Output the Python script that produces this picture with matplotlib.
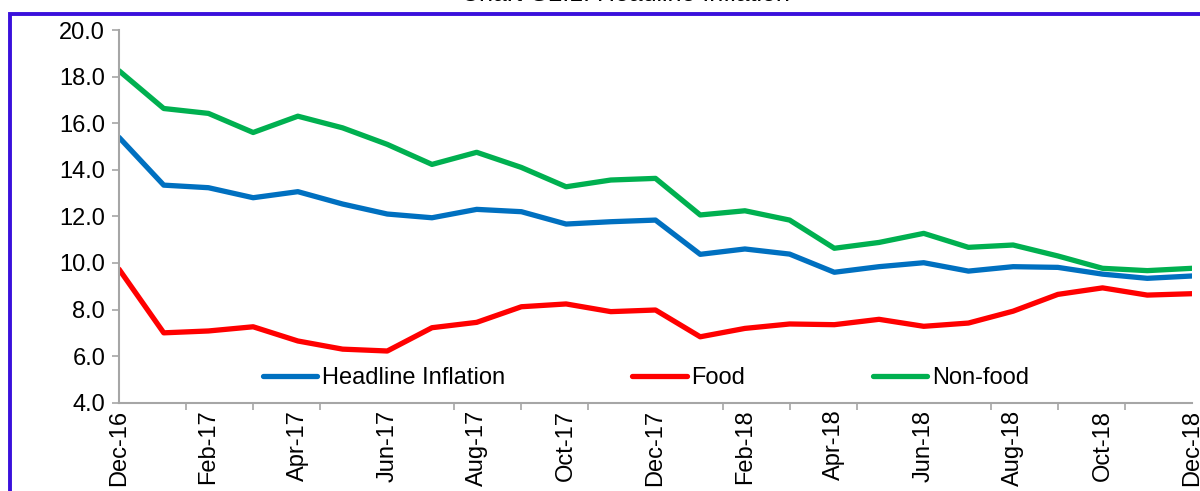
import numpy as np
import matplotlib
matplotlib.use("Agg")
import matplotlib.pyplot as plt
import matplotlib.patches as patches

plt.rcParams['font.family'] = ['Liberation Sans', 'DejaVu Sans']

months = ['Dec-16', 'Jan-17', 'Feb-17', 'Mar-17', 'Apr-17', 'May-17', 'Jun-17',
          'Jul-17', 'Aug-17', 'Sep-17', 'Oct-17', 'Nov-17', 'Dec-17',
          'Jan-18', 'Feb-18', 'Mar-18', 'Apr-18', 'May-18', 'Jun-18',
          'Jul-18', 'Aug-18', 'Sep-18', 'Oct-18', 'Nov-18', 'Dec-18']

headline = [15.39, 13.34, 13.23, 12.80, 13.06, 12.53, 12.10, 11.94, 12.30, 12.20,
            11.67, 11.77, 11.84, 10.37, 10.60, 10.38, 9.60, 9.84, 10.01,
            9.65, 9.84, 9.81, 9.52, 9.34, 9.44]
food = [9.73, 7.00, 7.08, 7.26, 6.65, 6.30, 6.22, 7.22, 7.45, 8.12,
        8.24, 7.91, 7.98, 6.83, 7.19, 7.38, 7.35, 7.58, 7.28,
        7.42, 7.93, 8.65, 8.93, 8.62, 8.68]
non_food = [18.25, 16.63, 16.42, 15.60, 16.30, 15.80, 15.09, 14.23, 14.75, 14.10,
            13.27, 13.56, 13.63, 12.06, 12.24, 11.84, 10.63, 10.88, 11.27,
            10.67, 10.77, 10.30, 9.77, 9.67, 9.77]

series_names = ['Headline Inflation', 'Food', 'Non-food']
series_colors = ['#0070C0', '#FF0000', '#00B050']
title = 'Chart G2.1: Headline Inflation'

fig = plt.figure(figsize=(12, 4.91), dpi=100)
ax = fig.add_axes([0.0992, 0.1798, 0.8941, 0.7591])

x = np.arange(len(months))
for vals, name, col in zip([headline, food, non_food], series_names, series_colors):
    ax.plot(x, vals, color=col, linewidth=3.8, label=name, solid_capstyle='round',
            solid_joinstyle='round')

ax.set_xlim(0, len(months) - 1)
ax.set_ylim(4, 20)
ax.set_yticks(np.arange(4, 20.1, 2))
ax.set_yticklabels([f'{v:.1f}' for v in np.arange(4, 20.1, 2)], fontsize=17)

ax.set_xticks(x[::2])
ax.set_xticklabels(months[::2], rotation=90, fontsize=17)
ax.set_xticks(np.arange(0, len(months) - 0.9, 1.5), minor=True)
ax.tick_params(axis='x', which='major', length=0, pad=5)
ax.tick_params(axis='x', which='minor', length=5, color='#A6A6A6', width=1.2)
ax.tick_params(axis='y', length=5, color='#A6A6A6', width=1.2, pad=5)

for s in ['top', 'right']:
    ax.spines[s].set_visible(False)
for s in ['left', 'bottom']:
    ax.spines[s].set_color('#A6A6A6')
    ax.spines[s].set_linewidth(1.5)

leg = ax.legend(loc='center', bbox_to_anchor=(0.491, 0.065), ncol=3, frameon=False,
                fontsize=17, handlelength=2.3, handletextpad=0.2, columnspacing=5.4)

fig.text(0.521, 1.012, title, ha='center', va='center', fontsize=18)

frame = patches.Rectangle((10 / 1200, -0.1), 1.2, 1 - 14 / 491 + 0.1,
                          transform=fig.transFigure, fill=False,
                          edgecolor='#3A10DC', linewidth=2.8, clip_on=False)
fig.patches.append(frame)

fig.savefig('out.png', dpi=100)
